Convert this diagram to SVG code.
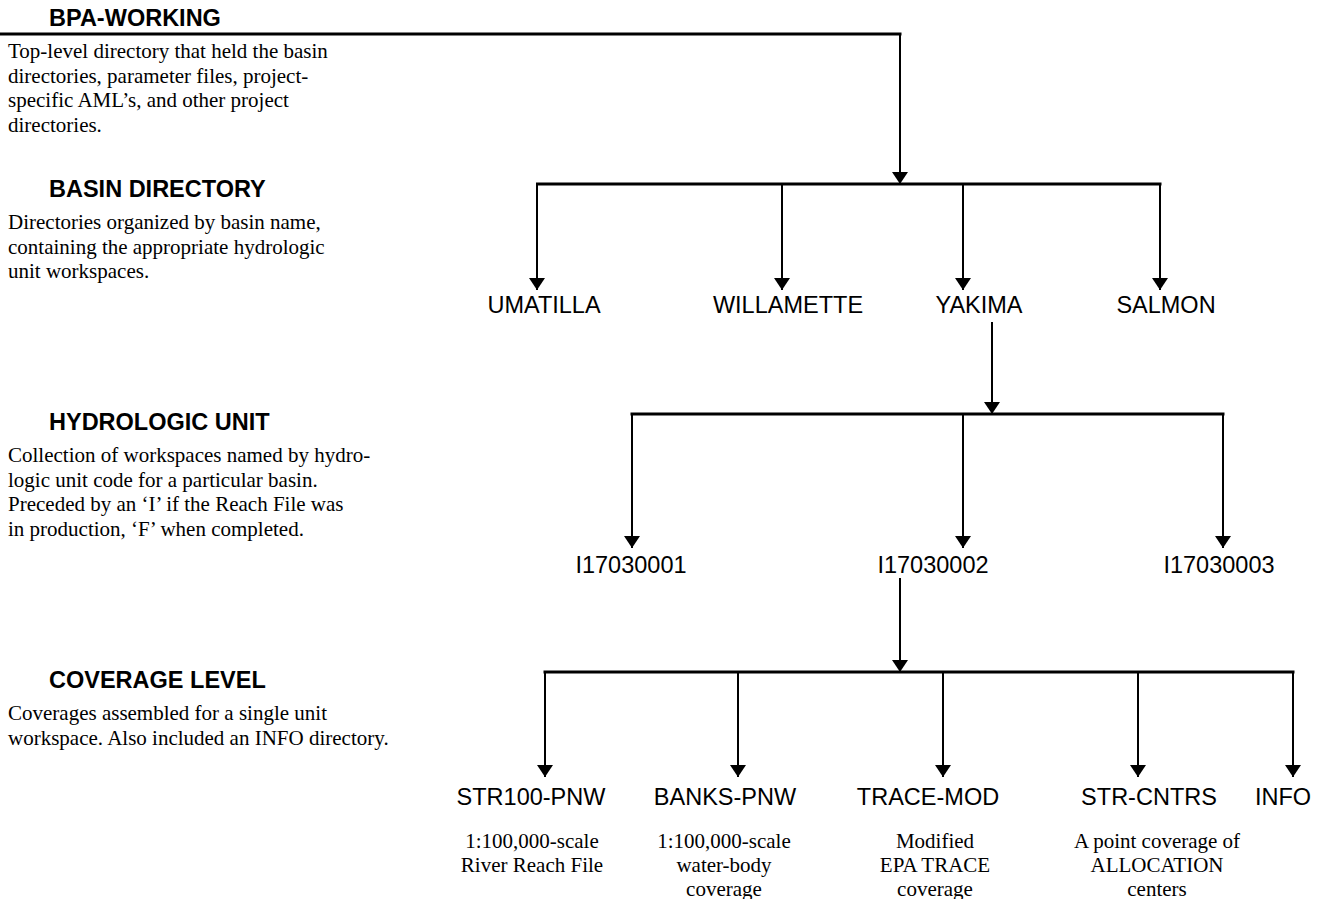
<svg xmlns="http://www.w3.org/2000/svg" width="1331" height="899" viewBox="0 0 1331 899">
<style>
.hdr{font-family:"Liberation Sans",Arial,sans-serif;font-weight:bold;font-size:23.5px;fill:#000}
.para{font-family:"Liberation Serif","Times New Roman",serif;font-size:21px;fill:#000}
.lbl{font-family:"Liberation Sans",Arial,sans-serif;font-size:23.5px;fill:#000;text-anchor:middle}
.desc{font-family:"Liberation Serif","Times New Roman",serif;font-size:21px;fill:#000;text-anchor:middle}
.bus{stroke:#000;stroke-width:3;fill:none}
.drop{stroke:#000;stroke-width:2;fill:none;marker-end:url(#ah)}
</style>
<defs>
<marker id="ah" markerUnits="userSpaceOnUse" viewBox="0 0 12 16" markerWidth="12" markerHeight="16" refX="12" refY="8" orient="auto">
<path d="M0,0 L12,8 L0,16 z" fill="#000"/>
</marker>
</defs>
<rect width="1331" height="899" fill="#fff"/>

<g id="legend">
<text class="hdr" x="49" y="26">BPA-WORKING</text>
<text class="para" x="8" y="58">Top-level directory that held the basin</text>
<text class="para" x="8" y="82.5">directories, parameter files, project-</text>
<text class="para" x="8" y="107">specific AML’s, and other project</text>
<text class="para" x="8" y="131.5">directories.</text>

<text class="hdr" x="49" y="197">BASIN DIRECTORY</text>
<text class="para" x="8" y="229">Directories organized by basin name,</text>
<text class="para" x="8" y="253.5">containing the appropriate hydrologic</text>
<text class="para" x="8" y="278">unit workspaces.</text>

<text class="hdr" x="49" y="430">HYDROLOGIC UNIT</text>
<text class="para" x="8" y="462">Collection of workspaces named by hydro-</text>
<text class="para" x="8" y="486.5">logic unit code for a particular basin.</text>
<text class="para" x="8" y="511">Preceded by an ‘I’ if the Reach File was</text>
<text class="para" x="8" y="535.5">in production, ‘F’ when completed.</text>

<text class="hdr" x="49" y="688">COVERAGE LEVEL</text>
<text class="para" x="8" y="720">Coverages assembled for a single unit</text>
<text class="para" x="8" y="744.5">workspace. Also included an INFO directory.</text>
</g>

<g id="connectors">
<line class="bus" x1="0" y1="34" x2="901.5" y2="34"/>
<line class="drop" x1="900" y1="34" x2="900" y2="184"/>

<line class="bus" x1="536" y1="184" x2="1161.5" y2="184"/>
<line class="drop" x1="537" y1="184" x2="537" y2="290"/>
<line class="drop" x1="782" y1="184" x2="782" y2="290"/>
<line class="drop" x1="963" y1="184" x2="963" y2="290"/>
<line class="drop" x1="1160" y1="184" x2="1160" y2="290"/>

<line class="drop" x1="992" y1="322" x2="992" y2="414"/>
<line class="bus" x1="630.5" y1="414" x2="1224.5" y2="414"/>
<line class="drop" x1="632" y1="414" x2="632" y2="548"/>
<line class="drop" x1="963" y1="414" x2="963" y2="548"/>
<line class="drop" x1="1223" y1="414" x2="1223" y2="548"/>

<line class="drop" x1="900" y1="578" x2="900" y2="672"/>
<line class="bus" x1="543.5" y1="672" x2="1294.5" y2="672"/>
<line class="drop" x1="545" y1="672" x2="545" y2="777"/>
<line class="drop" x1="738" y1="672" x2="738" y2="777"/>
<line class="drop" x1="943" y1="672" x2="943" y2="777"/>
<line class="drop" x1="1138" y1="672" x2="1138" y2="777"/>
<line class="drop" x1="1293" y1="672" x2="1293" y2="777"/>
</g>

<g id="umatilla"><text class="lbl" x="544" y="313">UMATILLA</text></g>
<g id="willamette"><text class="lbl" x="788" y="313">WILLAMETTE</text></g>
<g id="yakima"><text class="lbl" x="979" y="313">YAKIMA</text></g>
<g id="salmon"><text class="lbl" x="1166" y="313">SALMON</text></g>

<g id="hu1"><text class="lbl" x="631" y="573">I17030001</text></g>
<g id="hu2"><text class="lbl" x="933" y="573">I17030002</text></g>
<g id="hu3"><text class="lbl" x="1219" y="573">I17030003</text></g>

<g id="str100">
<text class="lbl" x="531" y="805">STR100-PNW</text>
<text class="desc" x="532" y="848">1:100,000-scale</text>
<text class="desc" x="532" y="872">River Reach File</text>
</g>
<g id="banks">
<text class="lbl" x="725" y="805">BANKS-PNW</text>
<text class="desc" x="724" y="848">1:100,000-scale</text>
<text class="desc" x="724" y="872">water-body</text>
<text class="desc" x="724" y="896">coverage</text>
</g>
<g id="trace">
<text class="lbl" x="928" y="805">TRACE-MOD</text>
<text class="desc" x="935" y="848">Modified</text>
<text class="desc" x="935" y="872">EPA TRACE</text>
<text class="desc" x="935" y="896">coverage</text>
</g>
<g id="strcntrs">
<text class="lbl" x="1149" y="805">STR-CNTRS</text>
<text class="desc" x="1157" y="848">A point coverage of</text>
<text class="desc" x="1157" y="872">ALLOCATION</text>
<text class="desc" x="1157" y="896">centers</text>
</g>
<g id="info"><text class="lbl" x="1283" y="805">INFO</text></g>
</svg>
